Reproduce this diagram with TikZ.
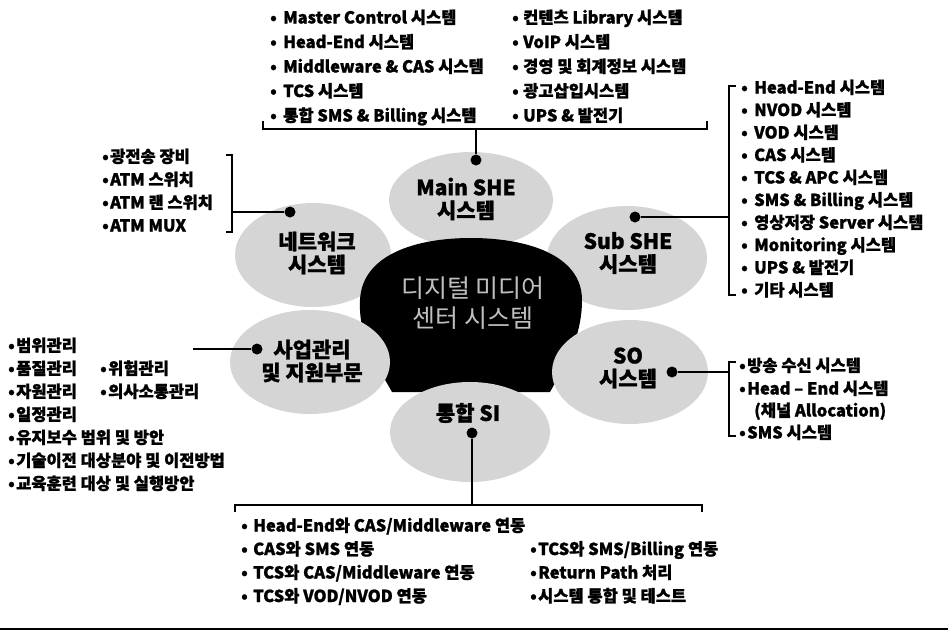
\documentclass[tikz,border=0pt]{standalone}
\usepackage{fontspec}
\setmainfont{Noto Sans CJK KR}[BoldFeatures={FakeBold=1.2}]
\newcommand\mybul[1]{\makebox[#1pt][l]{•}}
\begin{document}
\begin{tikzpicture}[x=1pt,y=-1pt,
  item/.style={anchor=west, inner sep=0pt, text height=12pt, text depth=3pt,
    font=\fontsize{16.5}{16.5}\selectfont\bfseries},
  petal/.style={fill=gray!33, draw=none},
  plabel/.style={align=center, inner sep=0pt, font=\fontsize{21}{23}\selectfont\bfseries},
  dot/.style={circle, fill=black, inner sep=0pt, minimum size=11pt},
  wire/.style={line width=1.8pt},
]
\useasboundingbox (0,0) rectangle (948,633);

% petals behind the centre
\fill[petal] (471,200) ellipse [x radius=82, y radius=48];
\fill[petal] (313,255) ellipse [x radius=78, y radius=52];
\fill[petal] (627,258) ellipse [x radius=80, y radius=52];
% dark centre
\fill[black] (392,392) .. controls (380,370) and (358,340) .. (360,300)
  .. controls (362,255) and (415,238) .. (471,238)
  .. controls (527,238) and (582,255) .. (582,300)
  .. controls (582,340) and (562,370) .. (550,392) -- cycle;
% petals in front
\fill[petal] (310,362) ellipse [x radius=80, y radius=52];
\fill[petal] (630,372) ellipse [x radius=78, y radius=52];
\fill[petal] (470,432) ellipse [x radius=80, y radius=50];

% labels
\node[align=center, inner sep=0pt, text=gray!50, font=\fontsize{25}{30}\selectfont] (centre) at (473,303) {디지털 미디어\\센터 시스템};
\node[plabel] (mainshe) at (466,199) {Main SHE\\시스템};
\node[plabel] (net) at (317,253) {네트워크\\시스템};
\node[plabel] (subshe) at (628,253) {Sub SHE\\시스템};
\node[plabel] (biz) at (312,361) {사업관리\\및 지원부문};
\node[plabel] (so) at (628,368) {SO\\시스템};
\node[plabel] (si) at (468,413) {통합 SI};

% dots
\node[dot] (dmain) at (476,160) {};
\node[dot] (dnet) at (290,212) {};
\node[dot] (dsub) at (635,217) {};
\node[dot] (dbiz) at (257,349) {};
\node[dot] (dso) at (672,372) {};
\node[dot] (dsi) at (472,433) {};

% brackets and connectors
\coordinate (topj) at (476,129);
\draw[wire] (263,121) -- (263,129) -- (707,129) -- (707,121);
\draw[wire] (topj) -- (dmain);

\coordinate (netj) at (232,212);
\draw[wire] (226,155) -- (232,155) -- (232,232) -- (226,232);
\draw[wire] (netj) -- (dnet);

\coordinate (subj) at (729,217);
\draw[wire] (736,86) -- (729,86) -- (729,295) -- (736,295);
\draw[wire] (dsub) -- (subj);

\coordinate (soj) at (729,372);
\draw[wire] (736,362) -- (729,362) -- (729,436) -- (736,436);
\draw[wire] (dso) -- (soj);

\coordinate (bizj) at (193,349);
\draw[wire] (bizj) -- (dbiz);

\coordinate (sij) at (472,505);
\draw[wire] (235,512) -- (235,505) -- (702,505) -- (702,512);
\draw[wire] (dsi) -- (sij);

\draw[line width=2.5pt] (0,629) -- (948,629);

% lists
\foreach \txt [count=\i from 0] in {Master Control 시스템, Head-End 시스템, Middleware \& CAS 시스템, TCS 시스템, 통합 SMS \& Billing 시스템}
  \node[item] (ta\i) at (270,{19+24.5*\i}) {\mybul{13}\txt};
\foreach \txt [count=\i from 0] in {컨텐츠 Library 시스템, VoIP 시스템, 경영 및 회계정보 시스템, 광고삽입시스템, UPS \& 발전기}
  \node[item] (tb\i) at (512,{19+24.5*\i}) {\mybul{11}\txt};
\foreach \txt [count=\i from 0] in {광전송 장비, ATM 스위치, ATM 랜 스위치, ATM MUX}
  \node[item] (na\i) at (102,{158+23*\i}) {\mybul{8}\txt};
\foreach \txt [count=\i from 0] in {Head-End 시스템, NVOD 시스템, VOD 시스템, CAS 시스템, TCS \& APC 시스템, SMS \& Billing 시스템, 영상저장 Server 시스템, Monitoring 시스템, UPS \& 발전기, 기타 시스템}
  \node[item] (sa\i) at (741,{89+22.5*\i}) {\mybul{13}\txt};
\node[item] (so0) at (739,367) {\mybul{8}방송 수신 시스템};
\node[item] (so1) at (739,390) {\mybul{8}Head – End 시스템};
\node[item] (so2) at (754,412) {(채널 Allocation)};
\node[item] (so3) at (739,434) {\mybul{8}SMS 시스템};
\foreach \txt [count=\i from 0] in {범위관리, 품질관리, 자원관리, 일정관리, 유지보수 범위 및 방안, 기술이전 대상분야 및 이전방법, 교육훈련 대상 및 실행방안}
  \node[item] (ba\i) at (8,{347+23*\i}) {\mybul{8}\txt};
\node[item] (bb0) at (100,370) {\mybul{8}위험관리};
\node[item] (bb1) at (100,393) {\mybul{8}의사소통관리};
\foreach \txt [count=\i from 0] in {Head-End와 CAS/Middleware 연동, CAS와 SMS 연동, TCS와 CAS/Middleware 연동, TCS와 VOD/NVOD 연동}
  \node[item] (ia\i) at (241,{527+23.5*\i}) {\mybul{12}\txt};
\foreach \txt [count=\i from 1] in {TCS와 SMS/Billing 연동, Return Path 처리, 시스템 통합 및 테스트}
  \node[item] (ib\i) at (530,{527+23.5*\i}) {\mybul{8}\txt};
\end{tikzpicture}
\end{document}
